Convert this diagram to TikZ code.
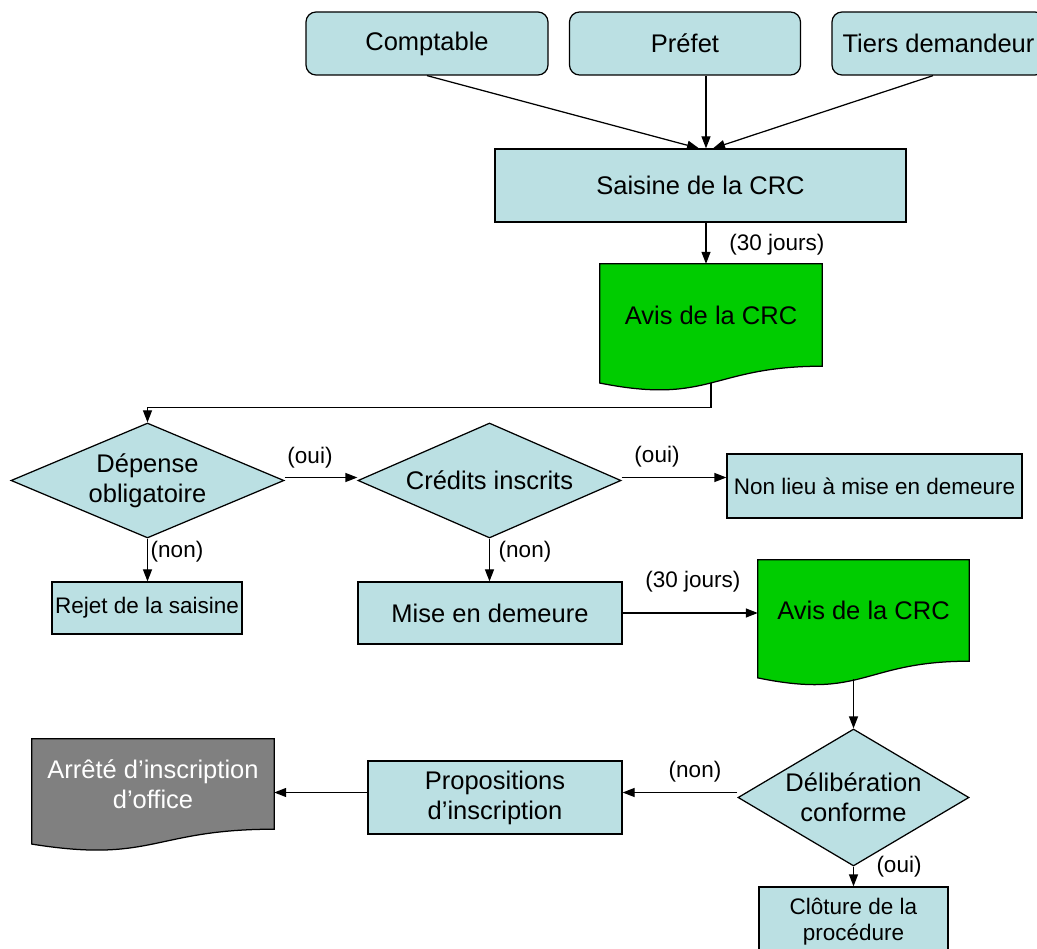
\documentclass[tikz,border=0pt]{standalone}
\usepackage{fontspec}
\setmainfont{Liberation Sans}
\usepackage{xcolor}
\usepackage{tikz}
\usetikzlibrary{arrows.meta,shapes.geometric,calc,backgrounds}

\definecolor{boxblue}{HTML}{BBE0E3}
\definecolor{avisgreen}{HTML}{00CC00}
\definecolor{docgray}{HTML}{808080}

\tikzset{
  base/.style={draw, fill=boxblue, line width=1.25pt, inner sep=0pt, align=center,
    font=\fontsize{25.5}{30}\selectfont},
  petit/.style={font=\fontsize{22.5}{26}\selectfont},
  acteur/.style={base, rectangle, rounded corners=10pt},
  etape/.style={base, rectangle},
  choix/.style={base, diamond},
  docu/.style={rectangle, inner sep=0pt, align=center, font=\fontsize{25.5}{30}\selectfont},
  lbl/.style={inner sep=0pt, font=\fontsize{22.5}{26}\selectfont},
  fleche/.style={line width=1.25pt, -{Triangle[length=12pt,width=9pt]}},
  trait/.style={line width=1.25pt}
}

% document shape with a wavy bottom, drawn under the node
\newcommand{\docfond}[2]{%
  \filldraw[fill=#2, line width=1.25pt]
    let \p1=(#1.north), \p2=(#1.south), \n1={\y1-\y2} in
    (#1.north west) -- (#1.north east) -- (#1.south east)
    .. controls (#1.south) and ($(#1.south)+(0pt,-0.381*\n1)$)
    .. ($(#1.south west)+(0pt,-0.1646*\n1)$) -- cycle;
}

\begin{document}
\begin{tikzpicture}[x=1pt, y=-1pt]
  \useasboundingbox (0,0) rectangle (1037,949);

  % who refers the matter
  \node[acteur, minimum width=242, minimum height=63] (comptable) at (427,43.5) {Comptable};
  \node[acteur, minimum width=231, minimum height=63] (prefet) at (685,43.5) {Préfet};
  \node[acteur, minimum width=213, minimum height=63] (tiers) at (938.5,43.5) {Tiers demandeur};

  \node[etape, minimum width=411, minimum height=73] (saisine) at (700.5,185.5) {Saisine de la CRC};
  \node[docu, minimum width=222, minimum height=102] (avis1) at (711,315) {Avis de la CRC};

  % first decisions
  \node[choix, aspect=2.37, minimum width=273, minimum height=115] (depense) at (147.5,480.5) {Dépense\\obligatoire};
  \node[choix, aspect=2.29, minimum width=263, minimum height=115] (credits) at (489.5,480.5) {Crédits inscrits};
  \node[etape, petit, minimum width=295, minimum height=64] (nonlieu) at (874.5,486) {Non lieu à mise en demeure};
  \node[etape, petit, minimum width=190, minimum height=52] (rejet) at (147,608) {Rejet de la saisine};
  \node[etape, minimum width=264, minimum height=62] (mise) at (490,613) {Mise en demeure};
  \node[docu, minimum width=211, minimum height=101] (avis2) at (863.5,610.5) {Avis de la CRC};

  % second round
  \node[choix, aspect=1.69, minimum width=231, minimum height=137] (delib) at (853.5,797.5) {Délibération\\conforme};
  \node[etape, minimum width=254, minimum height=73] (propos) at (495,797.5) {Propositions\\d’inscription};
  \node[docu, text=white, minimum width=242, minimum height=90] (arrete) at (153,784) {Arrêté d’inscription\\d’office};
  \node[etape, petit, minimum width=189, minimum height=70] (cloture) at (853.5,922) {Clôture de la\\procédure};

  \begin{scope}[on background layer]
    \docfond{avis1}{avisgreen}
    \docfond{avis2}{avisgreen}
    \docfond{arrete}{docgray}
  \end{scope}

  % connectors
  \draw[fleche] (comptable.south) -- ([xshift=-1.5pt]saisine.north);
  \draw[fleche] ([xshift=21pt]prefet.south) -- ([xshift=5.5pt]saisine.north);
  \draw[fleche] ([xshift=-5.5pt]tiers.south) -- ([xshift=12.5pt]saisine.north);
  \draw[fleche] ([xshift=5.5pt]saisine.south) -- ([xshift=5.5pt]saisine.south |- avis1.north);
  \draw[fleche] ($(avis1.south)+(0,17)$) -- ++(0,24) -| (depense.north);
  \draw[fleche] ([yshift=3pt]depense.east) -- ([yshift=3pt]credits.west);
  \draw[fleche] ([yshift=3pt]credits.east) -- ([yshift=3pt]credits.east -| nonlieu.west);
  \draw[fleche] (depense.south) -- (depense.south |- rejet.north);
  \draw[fleche] (credits.south) -- (credits.south |- mise.north);
  \draw[fleche] (mise.east) -- (mise.east -| avis2.west);
  \draw[fleche] ($(delib.north |- avis2.south)+(0,18)$) -- (delib.north);
  \coordinate (dn) at ($(delib.west)+(0,-5)$);
  \draw[fleche] (dn) -- (dn -| propos.east);
  \draw[fleche] (dn -| propos.west) -- (dn -| arrete.east);
  \draw[fleche] (delib.south) -- (cloture.north);

  % labels
  \node[lbl] (jours1) at (777,245) {(30 jours)};
  \node[lbl] (oui1) at (310,458) {(oui)};
  \node[lbl] (oui2) at (657,457) {(oui)};
  \node[lbl] (non1) at (177,552) {(non)};
  \node[lbl] (non2) at (525,552) {(non)};
  \node[lbl] (jours2) at (693,582) {(30 jours)};
  \node[lbl] (non3) at (695,772) {(non)};
  \node[lbl] (oui3) at (899,867) {(oui)};
\end{tikzpicture}
\end{document}
